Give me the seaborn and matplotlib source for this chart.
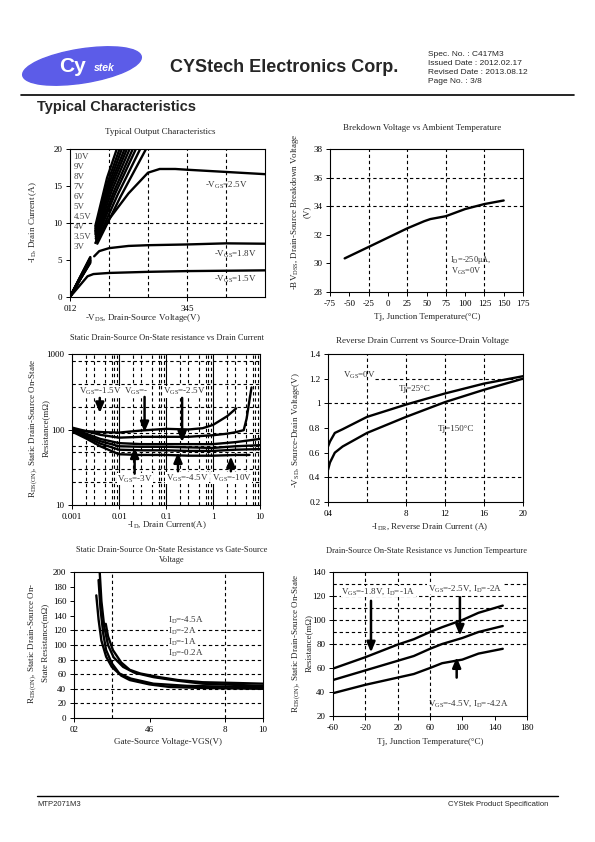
import numpy as np
import matplotlib
matplotlib.use("Agg")
import matplotlib.pyplot as plt
from matplotlib.patches import Ellipse
import seaborn as sns

sns.set_style("ticks")
plt.rcParams.update({
    'font.family': ['Liberation Serif', 'DejaVu Serif'],
    'mathtext.fontset': 'custom',
    'mathtext.rm': 'Liberation Serif',
    'mathtext.it': 'Liberation Serif:italic',
    'mathtext.bf': 'Liberation Serif:bold',
    'axes.unicode_minus': False,
    'axes.edgecolor': 'black',
    'axes.linewidth': 0.8,
    'xtick.color': 'black',
    'ytick.color': 'black',
    'xtick.labelsize': 6.5,
    'ytick.labelsize': 6.5,
    'xtick.major.size': 3,
    'ytick.major.size': 3,
    'xtick.major.pad': 2.5,
    'ytick.major.pad': 2.5,
    'xtick.major.width': 0.7,
    'ytick.major.width': 0.7,
})

LW = 1.7
TXT = 6.5
SANS = ['Liberation Sans', 'DejaVu Sans']

# ---------------- data ----------------
# (1) Typical output characteristics
vgs_labels = ["10V", "9V", "8V", "7V", "6V", "5V", "4.5V", "4V", "3.5V", "3V"]
vgs_label_y = [18.9, 17.6, 16.2, 14.8, 13.5, 12.1, 10.8, 9.4, 8.1, 6.7]
steep_low_x = [0, 0.25, 0.52]
steep_low_y = [[0, 2.6, 5.4], [0, 2.6, 5.3], [0, 2.5, 5.2], [0, 2.5, 5.1], [0, 2.5, 5.0],
               [0, 2.4, 4.9], [0, 2.4, 4.9], [0, 2.4, 4.8], [0, 2.3, 4.7], [0, 2.3, 4.6]]
steep_high_x = [[0.65, 0.95, 1.20], [0.65, 0.98, 1.27], [0.65, 1.0, 1.33], [0.65, 1.02, 1.40],
                [0.65, 1.05, 1.46], [0.66, 1.08, 1.53], [0.66, 1.12, 1.61], [0.67, 1.16, 1.69],
                [0.68, 1.22, 1.80], [0.70, 1.30, 1.95]]
steep_high_y = [[9.6, 16.1, 20], [9.3, 15.7, 20], [9.0, 15.3, 20], [8.8, 15.0, 20],
                [8.5, 14.8, 20], [8.2, 14.5, 20], [7.9, 14.2, 20], [7.7, 14.0, 20],
                [7.4, 13.8, 20], [7.2, 13.6, 20]]
v25_low_x = [0, 0.5]
v25_low_y = [0, 4.6]
v25_x = [0.65, 1.0, 1.5, 2.0, 2.3, 2.7, 3.0, 4.0, 5.0]
v25_y = [7.3, 10.5, 14.0, 16.8, 17.3, 17.3, 17.2, 16.9, 16.6]
v18_low_x = [0, 0.48]
v18_low_y = [0, 4.4]
v18_x = [0.62, 0.75, 1.0, 1.5, 2.0, 3.0, 4.0, 5.0]
v18_y = [5.5, 6.2, 6.6, 6.9, 7.0, 7.1, 7.25, 7.2]
v15_x = [0, 0.45, 0.6, 1.0, 2.0, 3.0, 4.0, 5.0]
v15_y = [0, 2.8, 3.1, 3.25, 3.4, 3.5, 3.55, 3.6]

# (2) Breakdown voltage vs temperature
bv_t = [-56, -25, 0, 25, 47, 55, 75, 100, 125, 150]
bv_v = [30.35, 31.15, 31.8, 32.45, 32.95, 33.1, 33.3, 33.8, 34.15, 34.4]

# (3) Rds(on) vs drain current
id_15 = [0.001, 0.002, 0.005, 0.01, 0.03, 0.1, 0.3, 0.6, 1.0, 2.0, 3.1]
rds_15 = [100, 95, 92, 91, 97, 102, 100, 104, 115, 150, 190]
id_18 = [0.001, 0.002, 0.004, 0.01, 0.03, 0.1, 0.3, 1.0, 2.0, 3.0, 4.5, 5.2, 6.0, 6.6]
rds_18 = [106, 95, 85, 78, 80, 80, 80, 84, 88, 92, 98, 140, 250, 360]
id_hi = [0.001, 0.002, 0.004, 0.01, 0.03, 0.1, 0.3, 1.0, 3.0, 10.0]
rds_25 = [103, 88, 75, 66, 64, 64, 64, 64, 68, 75]
rds_3 = [100, 84, 70, 60, 59, 59, 58, 57, 60, 62]
rds_45 = [98, 80, 65, 54, 53, 53, 52, 52, 54, 55]
id_10 = [0.001, 0.002, 0.004, 0.01, 0.03, 0.1, 0.3, 1.0, 3.0, 6.0]
rds_10 = [94, 76, 60, 47, 46, 46, 45, 45, 46, 46]

# (4) Reverse drain current vs source-drain voltage
idr = [0, 0.2, 0.7, 1.5, 4, 8, 12, 16, 20]
vsd_25 = [0.65, 0.69, 0.76, 0.79, 0.89, 0.99, 1.08, 1.16, 1.22]
vsd_150 = [0.46, 0.52, 0.60, 0.65, 0.76, 0.89, 1.01, 1.11, 1.20]

# (5) Rds(on) vs gate-source voltage
vgs_a = [1.18, 1.3, 1.45, 1.7, 2.0, 2.5, 2.95, 4.0, 5.06, 7.0, 10.0]
rds_a = [168, 135, 106, 84, 70, 58, 52, 46, 42.5, 41, 40]
vgs_b = [1.3, 1.4, 1.55, 1.7, 2.0, 2.4, 3.0, 4.2, 6.0, 8.0, 10.0]
rds_b = [189, 150, 115, 93, 75, 61, 54, 47, 44, 43, 42]
vgs_c = [1.36, 1.45, 1.6, 1.8, 2.1, 2.6, 3.2, 4.2, 5.5, 6.8, 10.0]
rds_c = [200, 160, 125, 100, 83, 70, 62, 56, 51, 47, 44]
vgs_d = [1.68, 1.8, 2.06, 2.5, 2.95, 3.5, 4.5, 5.5, 6.8, 8.5, 10.0]
rds_d = [129, 112, 93, 76, 66, 61, 56, 52, 49, 48, 47]
id_legend = ["I$_\\mathrm{D}$=-4.5A", "I$_\\mathrm{D}$=-2A", "I$_\\mathrm{D}$=-1A", "I$_\\mathrm{D}$=-0.2A"]

# (6) Rds(on) vs junction temperature
tj = [-60, -20, 20, 40, 60, 75, 100, 120, 150]
rds_t18 = [59.5, 69, 79.5, 84, 90, 94, 100, 106, 112]
rds_t25 = [50, 58, 66, 70, 76, 80, 85, 90, 95]
rds_t45 = [39, 46, 52, 55, 60, 64, 67, 72, 76]


def box(l, t, r, b):
    return [l / 595, 1 - b / 842, (r - l) / 595, (b - t) / 842]


def dash_grid(ax, xs=(), ys=()):
    for x in xs:
        ax.axvline(x, color='black', ls=(0, (3, 2.5)), lw=0.8, zorder=1)
    for y in ys:
        ax.axhline(y, color='black', ls=(0, (3, 2.5)), lw=0.8, zorder=1)


def curve(ax, x, y):
    sns.lineplot(x=x, y=y, ax=ax, color='black', linewidth=LW, sort=False,
                 estimator=None, zorder=3)


def arrow(ax, x, y0, y1):
    ax.annotate("", xy=(x, y1), xytext=(x, y0),
                arrowprops=dict(arrowstyle='-|>,head_length=0.6,head_width=0.25',
                                color='black', lw=1.8, shrinkA=0, shrinkB=0), zorder=4)


def frame(ax):
    for s in ax.spines.values():
        s.set_visible(True)
        s.set_color('black')
        s.set_linewidth(0.8)
    ax.set_xlabel("")
    ax.set_ylabel("")


fig = plt.figure(figsize=(5.95, 8.42), dpi=100)
bg = fig.add_axes([0, 0, 1, 1], zorder=-5)
bg.set_xlim(0, 595)
bg.set_ylim(842, 0)
bg.axis('off')

# ---------------- page header / footer ----------------
bg.add_patch(Ellipse((82, 66), 120, 34, angle=-9, color='#5c5ce8'))
bg.text(72, 67, "Cy", color='white', fontsize=15, fontweight='bold', family=SANS,
        ha='center', va='center')
bg.text(104, 68, "stek", color='white', fontsize=7.5, fontweight='bold', style='italic',
        family=SANS, ha='center', va='center')
bg.text(170, 68, "CYStech Electronics Corp.", fontsize=13, fontweight='bold', family=SANS,
        va='center', ha='left')
for i, s in enumerate(["Spec. No. : C417M3", "Issued Date : 2012.02.17",
                       "Revised Date : 2013.08.12", "Page No. : 3/8"]):
    bg.text(428, 55 + i * 8.7, s, fontsize=6, family=SANS, va='center', ha='left')
bg.plot([21, 574], [95, 95], color='black', lw=1.2)
bg.text(37, 107, "Typical Characteristics", fontsize=10.5, fontweight='bold', family=SANS,
        va='center', ha='left')
bg.plot([37, 558], [796, 796], color='black', lw=1.0)
bg.text(37, 804, "MTP2071M3", fontsize=5.5, family=SANS, va='center', ha='left')
bg.text(548, 804, "CYStek Product Specification", fontsize=5.5, family=SANS,
        va='center', ha='right')

# ---------------- (1) output characteristics ----------------
ax1 = fig.add_axes(box(70, 149, 265, 297))
dash_grid(ax1, xs=[1, 2, 3, 4], ys=[10])
for ly, hx, hy in zip(steep_low_y, steep_high_x, steep_high_y):
    curve(ax1, steep_low_x, ly)
    curve(ax1, hx, hy)
curve(ax1, v25_low_x, v25_low_y)
curve(ax1, v25_x, v25_y)
curve(ax1, v18_low_x, v18_low_y)
curve(ax1, v18_x, v18_y)
curve(ax1, v15_x, v15_y)
for lab, y in zip(vgs_labels, vgs_label_y):
    ax1.text(0.09, y, lab, fontsize=6.5, color='#444444', va='center', ha='left', zorder=5)
ax1.text(3.45, 15.1, "-V$_\\mathrm{GS}$=2.5V", fontsize=TXT, color='#333333', va='center')
ax1.text(3.7, 5.8, "-V$_\\mathrm{GS}$=1.8V", fontsize=TXT, color='#333333', va='center')
ax1.text(3.7, 2.4, "-V$_\\mathrm{GS}$=1.5V", fontsize=TXT, color='#333333', va='center')
ax1.set_xlim(0, 5)
ax1.set_ylim(0, 20)
ax1.set_xticks([0, 3])
ax1.set_xticklabels(["012", "345"])
ax1.set_yticks([0, 5, 10, 15, 20])
frame(ax1)
bg.text(160, 132, "Typical Output Characteristics", fontsize=TXT, ha='center', va='center')
bg.text(143, 318, "-V$_\\mathrm{DS}$, Drain-Source Voltage(V)", fontsize=TXT, ha='center', va='center')
bg.text(33, 222, "-I$_\\mathrm{D}$, Drain Current (A)", fontsize=TXT, ha='center', va='center',
        rotation=90)

# ---------------- (2) breakdown voltage ----------------
ax2 = fig.add_axes(box(330, 149, 523, 292))
dash_grid(ax2, xs=[-25, 25, 75, 125], ys=[34, 36])
curve(ax2, bv_t, bv_v)
ax2.text(80, 30.25, "I$_\\mathrm{D}$=-250μA,", fontsize=6, color='#333333', va='center')
ax2.text(82, 29.45, "V$_\\mathrm{GS}$=0V", fontsize=6, color='#333333', va='center')
ax2.set_xlim(-75, 175)
ax2.set_ylim(28, 38)
ax2.set_xticks(list(range(-75, 176, 25)))
ax2.set_yticks([28, 30, 32, 34, 36, 38])
frame(ax2)
bg.text(422, 128, "Brekdown Voltage vs Ambient Temperature", fontsize=TXT, ha='center', va='center')
bg.text(427, 317, "Tj, Junction Temperature(°C)", fontsize=TXT, ha='center', va='center')
bg.text(300, 212, "-BV$_\\mathrm{DSS}$, Drain-Source Breakdown Voltage\n(V)", fontsize=TXT,
        ha='center', va='center', rotation=90, linespacing=1.2)

# ---------------- (3) Rds(on) vs ID ----------------
ax3 = fig.add_axes(box(72, 354, 260, 505))
ax3.set_xscale('log')
ax3.set_yscale('log')
minor_x = [m * 10.0 ** e for e in (-3, -2, -1, 0) for m in (2, 3, 5, 7, 8, 9)]
dash_grid(ax3, xs=minor_x, ys=[20, 30, 50, 60, 90, 200, 400, 800])
for d in [0.01, 0.1, 1]:
    ax3.axvline(d, color='black', lw=0.8, zorder=1)
curve(ax3, id_15, rds_15)
curve(ax3, id_18, rds_18)
curve(ax3, id_hi, rds_25)
curve(ax3, id_hi, rds_3)
curve(ax3, id_hi, rds_45)
curve(ax3, id_10, rds_10)
ax3.text(0.0039, 315, "V$_\\mathrm{GS}$=-1.5V", fontsize=TXT, color='#333333', ha='center',
         va='center', bbox=dict(fc='white', ec='none', pad=0.3))
arrow(ax3, 0.0039, 262, 165)
ax3.text(0.023, 315, "V$_\\mathrm{GS}$=-", fontsize=TXT, color='#333333', ha='center',
         va='center', bbox=dict(fc='white', ec='none', pad=0.3))
arrow(ax3, 0.035, 270, 92)
ax3.text(0.25, 315, "V$_\\mathrm{GS}$=-2.5V", fontsize=TXT, color='#333333', ha='center',
         va='center', bbox=dict(fc='white', ec='none', pad=0.3))
arrow(ax3, 0.22, 262, 68)
ax3.text(0.022, 22, "V$_\\mathrm{GS}$=-3V", fontsize=TXT, color='#333333', ha='center',
         va='center', bbox=dict(fc='white', ec='none', pad=0.3))
arrow(ax3, 0.0215, 26, 58)
ax3.text(0.28, 22.5, "V$_\\mathrm{GS}$=-4.5V", fontsize=TXT, color='#333333', ha='center',
         va='center', bbox=dict(fc='white', ec='none', pad=0.3))
arrow(ax3, 0.18, 28, 50)
ax3.text(2.5, 22.5, "V$_\\mathrm{GS}$=-10V", fontsize=TXT, color='#333333', ha='center',
         va='center', bbox=dict(fc='white', ec='none', pad=0.3))
arrow(ax3, 2.4, 28, 44)
ax3.set_xlim(0.001, 10)
ax3.set_ylim(10, 1000)
ax3.set_xticks([0.001, 0.01, 0.1, 1, 10])
ax3.set_xticklabels(["0.001", "0.01", "0.1", "1", "10"])
ax3.set_yticks([10, 100, 1000])
ax3.set_yticklabels(["10", "100", "1000"])
ax3.minorticks_off()
frame(ax3)
bg.text(167, 338, "Static Drain-Source On-State resistance vs Drain Current", fontsize=6,
        ha='center', va='center')
bg.text(167, 525, "-I$_\\mathrm{D}$, Drain Current(A)", fontsize=TXT, ha='center', va='center')
bg.text(39, 428, "R$_\\mathrm{DS(ON)}$, Static Drain-Source On-State\nResistance(mΩ)", fontsize=TXT,
        ha='center', va='center', rotation=90, linespacing=1.3)

# ---------------- (4) reverse drain current ----------------
ax4 = fig.add_axes(box(328, 354, 523, 502))
dash_grid(ax4, xs=[4, 8, 12, 16], ys=[1.0, 0.4])
ax4.plot([4.8, 20], [1.2, 1.2], color='black', ls=(0, (3, 2.5)), lw=0.8, zorder=1)
curve(ax4, idr, vsd_25)
curve(ax4, idr, vsd_150)
ax4.text(1.5, 1.23, "V$_\\mathrm{GS}$=0V", fontsize=TXT, color='#333333', va='center')
ax4.text(7.3, 1.12, "Tj=25°C", fontsize=TXT, color='#333333', va='center')
ax4.text(11.3, 0.79, "Tj=150°C", fontsize=TXT, color='#333333', va='center')
ax4.set_xlim(0, 20)
ax4.set_ylim(0.2, 1.4)
ax4.set_xticks([0, 8, 12, 16, 20])
ax4.set_xticklabels(["04", "8", "12", "16", "20"])
ax4.set_yticks([0.2, 0.4, 0.6, 0.8, 1.0, 1.2, 1.4])
ax4.set_yticklabels(["0.2", "0.4", "0.6", "0.8", "1", "1.2", "1.4"])
frame(ax4)
bg.text(422, 341, "Reverse Drain Current vs Source-Drain Voltage", fontsize=TXT, ha='center',
        va='center')
bg.text(430, 527, "-I$_\\mathrm{DR}$, Reverse Drain Current (A)", fontsize=TXT, ha='center',
        va='center')
bg.text(296, 430, "-V$_\\mathrm{SD}$, Source-Drain Voltage(V)", fontsize=TXT, ha='center',
        va='center', rotation=90)

# ---------------- (5) Rds(on) vs VGS ----------------
ax5 = fig.add_axes(box(74, 572, 263, 718))
dash_grid(ax5, xs=[2, 8], ys=[20, 40, 60, 80, 100, 120])
curve(ax5, vgs_a, rds_a)
curve(ax5, vgs_b, rds_b)
curve(ax5, vgs_c, rds_c)
curve(ax5, vgs_d, rds_d)
for i, lab in enumerate(id_legend):
    ax5.text(5.0, 134 - i * 15, lab, fontsize=TXT, color='#333333', va='center', ha='left',
             bbox=dict(fc='white', ec='none', pad=0.5))
ax5.set_xlim(0, 10)
ax5.set_ylim(0, 200)
ax5.set_xticks([0, 4, 8, 10])
ax5.set_xticklabels(["02", "46", "8", "10"])
ax5.set_yticks(list(range(0, 201, 20)))
frame(ax5)
bg.text(172, 555, "Static Drain-Source On-State Resistance vs Gate-Source\nVoltage", fontsize=6,
        ha='center', va='center', linespacing=1.3)
bg.text(168, 742, "Gate-Source Voltage-VGS(V)", fontsize=TXT, ha='center', va='center')
bg.text(38, 643, "R$_\\mathrm{DS(ON)}$, Static Drain-Source On-\nState Resistance(mΩ)", fontsize=TXT,
        ha='center', va='center', rotation=90, linespacing=1.3)

# ---------------- (6) Rds(on) vs Tj ----------------
ax6 = fig.add_axes(box(333, 572, 527, 716))
dash_grid(ax6, xs=[-20, 20, 60], ys=[80, 90, 100, 110, 120, 130])
curve(ax6, tj, rds_t18)
curve(ax6, tj, rds_t25)
curve(ax6, tj, rds_t45)
ax6.text(-50, 123.5, "V$_\\mathrm{GS}$=-1.8V, I$_\\mathrm{D}$=-1A", fontsize=TXT, color='#333333',
         va='center', bbox=dict(fc='white', ec='none', pad=0.3))
arrow(ax6, -13, 116, 73)
ax6.text(57, 126, "V$_\\mathrm{GS}$=-2.5V, I$_\\mathrm{D}$=-2A", fontsize=TXT, color='#333333',
         va='center', bbox=dict(fc='white', ec='none', pad=0.3))
arrow(ax6, 97, 119, 87)
ax6.text(58, 30, "V$_\\mathrm{GS}$=-4.5V, I$_\\mathrm{D}$=-4.2A", fontsize=TXT, color='#333333',
         va='center')
arrow(ax6, 93, 52, 69)
ax6.set_xlim(-60, 180)
ax6.set_ylim(20, 140)
ax6.set_xticks(list(range(-60, 181, 40)))
ax6.set_yticks(list(range(20, 141, 20)))
frame(ax6)
bg.text(427, 551, "Drain-Source On-State Resistance vs Junction Tempearture", fontsize=6,
        ha='center', va='center')
bg.text(430, 742, "Tj, Junction Temperature(°C)", fontsize=TXT, ha='center', va='center')
bg.text(302, 643, "R$_\\mathrm{DS(ON)}$, Static Drain-Source On-State\nResistance(mΩ)", fontsize=TXT,
        ha='center', va='center', rotation=90, linespacing=1.3)

fig.savefig("out.png", dpi=100, facecolor='white')
